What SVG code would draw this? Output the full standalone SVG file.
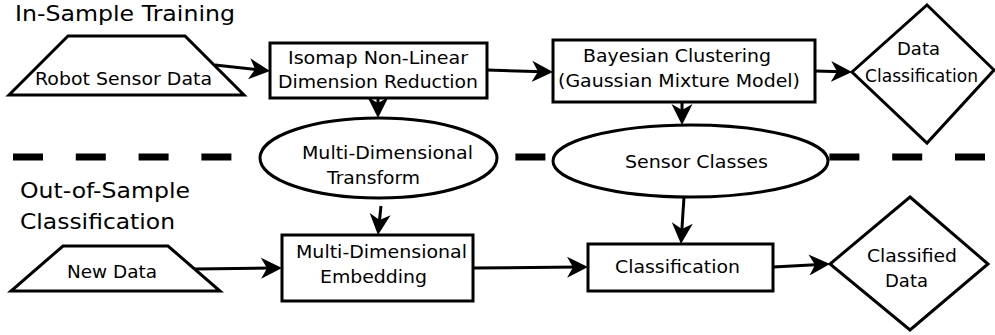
<svg xmlns="http://www.w3.org/2000/svg" width="995" height="335" viewBox="0 0 995 335">
  <style>
    .shape { fill: #ffffff; stroke: #000000; stroke-width: 3; }
    .txt { font-family: "DejaVu Sans", sans-serif; font-size: 17.5px; fill: #000000; }
    .title { font-family: "DejaVu Sans", sans-serif; font-size: 20.5px; fill: #000000; }
    .edge { fill: none; stroke: #000000; stroke-width: 3; marker-end: url(#head); }
    .divider { fill: none; stroke: #000000; stroke-width: 7; stroke-dasharray: 30 32.8; }
  </style>
  <defs>
    <marker id="head" markerUnits="userSpaceOnUse" markerWidth="24" markerHeight="24" viewBox="0 -12 24 24" refX="11" refY="0" orient="auto">
      <path d="M21,0 L0,-10.5 L6,0 L0,10.5 Z" fill="#000000"/>
    </marker>
  </defs>

  <rect width="995" height="335" fill="#ffffff"/>

  <!-- section divider -->
  <line class="divider" x1="13" y1="157" x2="986" y2="157"/>

  <!-- section titles -->
  <text class="title" x="15" y="21" textLength="220" lengthAdjust="spacingAndGlyphs">In-Sample Training</text>
  <text class="title" x="20" y="198" textLength="170" lengthAdjust="spacingAndGlyphs">Out-of-Sample</text>
  <text class="title" x="20" y="229" textLength="155" lengthAdjust="spacingAndGlyphs">Classification</text>

  <!-- connectors -->
  <g id="connectors">
    <path class="edge" d="M215,65 L260.1,69.9"/>
    <path class="edge" d="M378,98 L378,108"/>
    <path class="edge" d="M487,70 L543,71.7"/>
    <path class="edge" d="M815,71 L842,71.7"/>
    <path class="edge" d="M682,102 L682,115"/>
    <path class="edge" d="M381,206 L379,225"/>
    <path class="edge" d="M195,269 L272,268.1"/>
    <path class="edge" d="M473,268 L578,267.1"/>
    <path class="edge" d="M684,197 L681.6,234"/>
    <path class="edge" d="M773,267 L820,264.5"/>
  </g>

  <!-- training row -->
  <g id="robot-sensor-data">
    <polygon class="shape" points="68,36 185,36 244,95 9,95"/>
    <text class="txt" x="35" y="85" textLength="177" lengthAdjust="spacingAndGlyphs">Robot Sensor Data</text>
  </g>
  <g id="isomap">
    <rect class="shape" x="270" y="43" width="217" height="55"/>
    <text class="txt" x="288" y="64" textLength="180" lengthAdjust="spacingAndGlyphs">Isomap Non-Linear</text>
    <text class="txt" x="278" y="88" textLength="200" lengthAdjust="spacingAndGlyphs">Dimension Reduction</text>
  </g>
  <g id="bayesian-clustering">
    <rect class="shape" x="553" y="40" width="262" height="62"/>
    <text class="txt" x="583" y="62" textLength="188" lengthAdjust="spacingAndGlyphs">Bayesian Clustering</text>
    <text class="txt" x="558" y="87" textLength="242" lengthAdjust="spacingAndGlyphs">(Gaussian Mixture Model)</text>
  </g>
  <g id="data-classification">
    <polygon class="shape" points="927,5 994,70 927,143 852,72"/>
    <text class="txt" x="897" y="55" textLength="43" lengthAdjust="spacingAndGlyphs">Data</text>
    <text class="txt" x="865" y="82" textLength="113" lengthAdjust="spacingAndGlyphs">Classification</text>
  </g>

  <!-- shared models -->
  <g id="multi-dimensional-transform">
    <ellipse class="shape" cx="378.5" cy="158" rx="118.5" ry="40"/>
    <text class="txt" x="302" y="159" textLength="171" lengthAdjust="spacingAndGlyphs">Multi-Dimensional</text>
    <text class="txt" x="327" y="184" textLength="93" lengthAdjust="spacingAndGlyphs">Transform</text>
  </g>
  <g id="sensor-classes">
    <ellipse class="shape" cx="690.5" cy="161" rx="137.5" ry="36"/>
    <text class="txt" x="625" y="168" textLength="143" lengthAdjust="spacingAndGlyphs">Sensor Classes</text>
  </g>

  <!-- classification row -->
  <g id="new-data">
    <polygon class="shape" points="63,246 168,246 220,291 11,291"/>
    <text class="txt" x="67" y="278" textLength="90" lengthAdjust="spacingAndGlyphs">New Data</text>
  </g>
  <g id="multi-dimensional-embedding">
    <rect class="shape" x="282" y="235" width="191" height="66"/>
    <text class="txt" x="296" y="258" textLength="171" lengthAdjust="spacingAndGlyphs">Multi-Dimensional</text>
    <text class="txt" x="320" y="283" textLength="107" lengthAdjust="spacingAndGlyphs">Embedding</text>
  </g>
  <g id="classification">
    <rect class="shape" x="588" y="244" width="185" height="47"/>
    <text class="txt" x="615" y="273" textLength="125" lengthAdjust="spacingAndGlyphs">Classification</text>
  </g>
  <g id="classified-data">
    <polygon class="shape" points="910,197 988,264 910,330 830,264"/>
    <text class="txt" x="867" y="262" textLength="90" lengthAdjust="spacingAndGlyphs">Classified</text>
    <text class="txt" x="885" y="287" textLength="43" lengthAdjust="spacingAndGlyphs">Data</text>
  </g>
</svg>
